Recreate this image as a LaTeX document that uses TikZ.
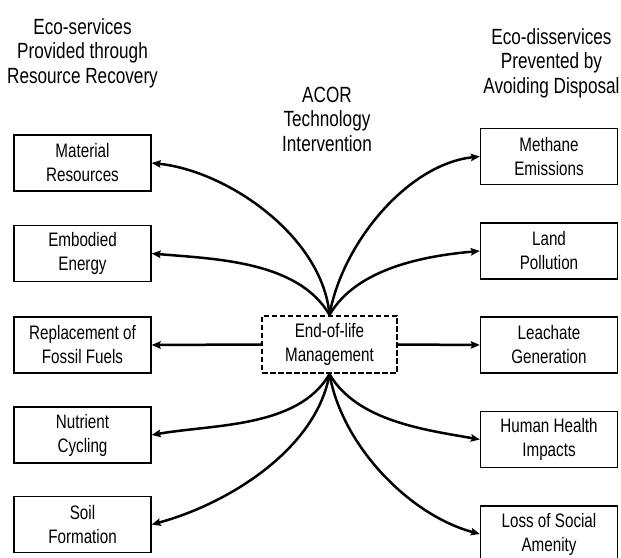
\documentclass[tikz,border=0pt]{standalone}
\usepackage{fontspec}
\setmainfont{Liberation Sans}[FakeStretch=0.78]
\usetikzlibrary{arrows.meta}

\begin{document}
\begin{tikzpicture}[x=1pt,y=1pt,
  box/.style={draw, line width=1.4pt, minimum width=137pt, minimum height=56pt,
    align=center, inner sep=0pt, font=\fontsize{19.5}{24}\selectfont},
  hub/.style={draw, line width=2.2pt, dash pattern=on 5.5pt off 2.5pt,
    minimum width=135pt, minimum height=57pt,
    align=center, inner sep=0pt, font=\fontsize{19.5}{24}\selectfont},
  head/.style={align=center, inner sep=0pt, font=\fontsize{22}{24.5}\selectfont},
  link/.style={line width=2.5pt, -{Stealth[length=9pt,width=7.5pt,inset=1.5pt]}, looseness=0.85}
]
\useasboundingbox (0,0) rectangle (621,557);

% column headings
\node[head] (hl) at (82.5,504) {Eco-services\\Provided through\\Resource Recovery};
\node[head] (hr) at (551.5,494) {Eco-disservices\\Prevented by\\Avoiding Disposal};
\node[head] (hm) at (327,438) {ACOR\\Technology\\Intervention};

% central management box
\node[hub] (c) at (329.5,212.5) {End-of-life\\Management};

% eco-services (left column)
\node[box] (l1) at (82.5,394)   {Material\\Resources};
\node[box] (l2) at (82.5,303.5) {Embodied\\Energy};
\node[box] (l3) at (82.5,212)   {Replacement of\\Fossil Fuels};
\node[box] (l4) at (82.5,122)   {Nutrient\\Cycling};
\node[box] (l5) at (82.5,32.5)  {Soil\\Formation};

% eco-disservices (right column)
\node[box] (r1) at (549,400.5) {Methane\\Emissions};
\node[box] (r2) at (549,306)   {Land\\Pollution};
\node[box] (r3) at (549,212)   {Leachate\\Generation};
\node[box] (r4) at (549,117.5) {Human Health\\Impacts};
\node[box] (r5) at (549,23)    {Loss of Social\\Amenity};

% connectors
\draw[link] (c.north) to[out=95,  in=-6]  (l1.east);
\draw[link] (c.north) to[out=120, in=-5]  (l2.east);
\draw[link] (c.west) -- (l3.east);
\draw[link] (c.south) to[out=-120, in=10] (l4.east);
\draw[link] (c.south) to[out=-100, in=15] (l5.east);

\draw[link] (c.north) to[out=80,  in=186] (r1.west);
\draw[link] (c.north) to[out=60,  in=185] (r2.west);
\draw[link] (c.east) -- (r3.west);
\draw[link] (c.south) to[out=-60, in=170] (r4.west);
\draw[link] (c.south) to[out=-80, in=165] (r5.west);
\end{tikzpicture}
\end{document}
